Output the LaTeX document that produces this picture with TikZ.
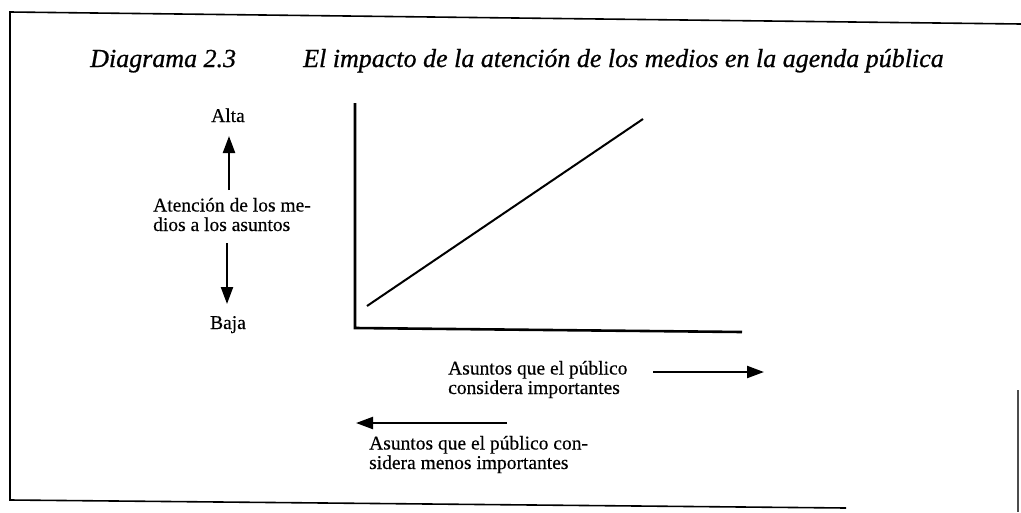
\documentclass[tikz,border=0pt]{standalone}
\usepackage{fontspec}
\setmainfont{Liberation Serif}
\usetikzlibrary{arrows.meta}
\begin{document}
\begin{tikzpicture}[x=1pt,y=-1pt,
  frameline/.style={line width=1.6pt,black},
  axisline/.style={line width=2.6pt,black},
  trendline/.style={line width=2pt,black},
  dirarrow/.style={line width=2.2pt,-{Triangle[length=17pt,width=12pt]}},
  titletext/.style={inner sep=0pt,anchor=base west,font=\fontsize{26}{30}\selectfont\itshape\addfontfeature{FakeBold=0.8}},
  bodytext/.style={inner sep=0pt,align=left,anchor=base west,font=\fontsize{19.5}{19.5}\selectfont\addfontfeature{FakeBold=0.4}},
  ctext/.style={inner sep=0pt,anchor=base,font=\fontsize{19.5}{19.5}\selectfont\addfontfeature{FakeBold=0.4}}]
\useasboundingbox (0,0) rectangle (1021,512);
% frame (scanned page border)
\coordinate (ftl) at (10,12);
\coordinate (ftr) at (1021,24);
\coordinate (fbl) at (10,500);
\coordinate (fbr) at (846,508);
\draw[frameline] (ftr) -- (ftl) -- (fbl) -- (fbr);
\coordinate (rt) at (1018,390);
\coordinate (rb) at (1018,512);
\draw[line width=1.2pt,black!70] (rt) -- (rb);
% title
\node[titletext] (t1) at (90,67) {Diagrama 2.3};
\node[titletext] (t2) at (303,67) {El impacto de la atención de los medios en la agenda pública};
% axes
\coordinate (ytop) at (355,103);
\coordinate (orig) at (355,328);
\coordinate (xend) at (742,332);
\draw[axisline] (ytop) -- (orig) -- (xend);
% trend
\coordinate (ls) at (367,306);
\coordinate (le) at (643,119);
\draw[trendline] (ls) -- (le);
% vertical legend
\node[ctext] (alta) at (228,122) {Alta};
\node[bodytext] (aten) at (153,231) {Atención de los me-\\dios a los asuntos};
\node[ctext] (baja) at (228,329) {Baja};
\coordinate (upS) at (229,190);
\coordinate (upE) at (229,136);
\draw[dirarrow] (upS) -- (upE);
\coordinate (dnS) at (227,243);
\coordinate (dnE) at (227,304);
\draw[dirarrow] (dnS) -- (dnE);
% horizontal legends
\node[bodytext] (imp) at (448,394) {Asuntos que el público\\considera importantes};
\coordinate (raS) at (653,372);
\coordinate (raE) at (764,372);
\draw[dirarrow] (raS) -- (raE);
\coordinate (laS) at (507,423);
\coordinate (laE) at (356,423);
\draw[dirarrow] (laS) -- (laE);
\node[bodytext] (menos) at (369,469) {Asuntos que el público con-\\sidera menos importantes};
\end{tikzpicture}
\end{document}
